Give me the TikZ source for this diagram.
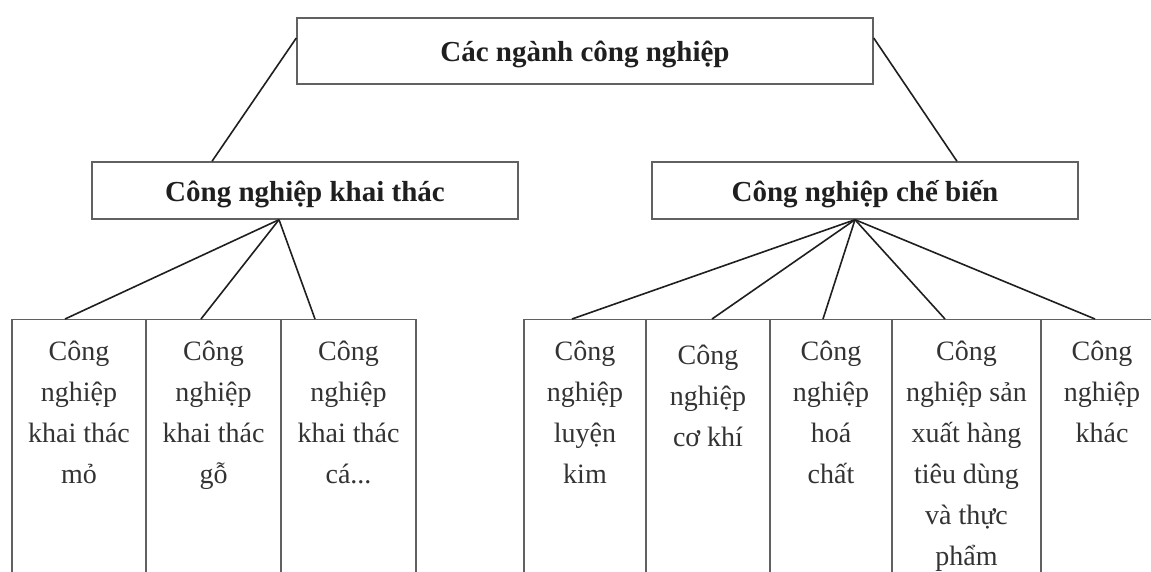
\documentclass[tikz,border=0pt]{standalone}
\usepackage{fontspec}
\setmainfont{Liberation Serif}
\newcommand{\leaftext}[3][0pt]{\parbox[t][250pt][t]{#2}{\centering\vspace*{#1}\strut #3}}
\begin{document}
\begin{tikzpicture}[
      x=1pt, y=-1pt,
      head/.style={draw=black!62,line width=1.4pt,inner sep=0pt,text=black!88,
        text height=24pt,text depth=3pt,font=\fontsize{29}{35}\selectfont\bfseries},
      leaf/.style={draw=black!62,line width=1.3pt,anchor=north,inner xsep=0pt,
        inner ysep=12pt,text=black!80,font=\fontsize{28}{41}\selectfont},
      link/.style={line width=1.6pt,black!88}
    ]
    \useasboundingbox (0,0) rectangle (1151,571);
    % Draw the head boxes.
    \node[head,minimum width=576pt,minimum height=66pt] (root) at (585,51) {Các ngành công nghiệp};
    \node[head,minimum width=426pt,minimum height=57pt] (khaithac) at (305,190.5) {Công nghiệp khai thác};
    \node[head,minimum width=426pt,minimum height=57pt] (chebien) at (865,190.5) {Công nghiệp chế biến};
    % Draw the leaf boxes of khai thac.
    \node[leaf,minimum width=134pt] (mo) at (79,319) {\leaftext{126pt}{Công\\nghiệp\\khai thác\\mỏ}};
    \node[leaf,minimum width=135pt] (go) at (213.5,319) {\leaftext{127pt}{Công\\nghiệp\\khai thác\\gỗ}};
    \node[leaf,minimum width=135pt] (ca) at (348.5,319) {\leaftext{127pt}{Công\\nghiệp\\khai thác\\cá...}};
    % Draw the leaf boxes of che bien.
    \node[leaf,minimum width=122pt] (luyenkim) at (585,319) {\leaftext{116pt}{Công\\nghiệp\\luyện\\kim}};
    \node[leaf,minimum width=124pt] (cokhi) at (708,319) {\leaftext[4pt]{118pt}{Công\\nghiệp\\cơ khí}};
    \node[leaf,minimum width=122pt] (hoachat) at (831,319) {\leaftext{116pt}{Công\\nghiệp\\hoá\\chất}};
    \node[leaf,minimum width=149pt] (tieudung) at (966.5,319) {\leaftext{143pt}{Công\\nghiệp sản\\xuất hàng\\tiêu dùng\\và thực\\phẩm}};
    \node[leaf,minimum width=122pt] (khac) at (1102,319) {\leaftext{116pt}{Công\\nghiệp\\khác}};
    % Draw the links.
    \draw[link] ([yshift=13pt]root.west) -- ([xshift=-93pt]khaithac.north);
    \draw[link] ([yshift=13pt]root.east) -- ([xshift=92pt]chebien.north);
    \draw[link] ([xshift=-26pt]khaithac.south) -- ([xshift=-14pt]mo.north);
    \draw[link] ([xshift=-26pt]khaithac.south) -- ([xshift=-12.5pt]go.north);
    \draw[link] ([xshift=-26pt]khaithac.south) -- ([xshift=-33.5pt]ca.north);
    \draw[link] ([xshift=-10pt]chebien.south) -- ([xshift=-13pt]luyenkim.north);
    \draw[link] ([xshift=-10pt]chebien.south) -- ([xshift=4pt]cokhi.north);
    \draw[link] ([xshift=-10pt]chebien.south) -- ([xshift=-8pt]hoachat.north);
    \draw[link] ([xshift=-10pt]chebien.south) -- ([xshift=-21.5pt]tieudung.north);
    \draw[link] ([xshift=-10pt]chebien.south) -- ([xshift=-7pt]khac.north);
    \end{tikzpicture}
\end{document}
